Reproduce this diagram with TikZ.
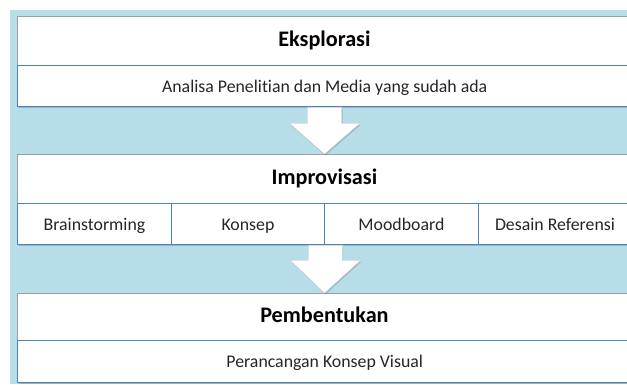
\documentclass[tikz,border=0pt]{standalone}
\usepackage{fontspec}
\setmainfont[Ligatures=NoCommon]{Carlito}
\usetikzlibrary{calc,shadows}
\definecolor{bgblue}{HTML}{B7DDE8}
\definecolor{lineblue}{HTML}{4F81BD}
\begin{document}
\begin{tikzpicture}[x=1pt,y=-1pt,
  shade1/.style={drop shadow={shadow xshift=1pt,shadow yshift=-1.5pt,opacity=0.35,fill=black!60}},
  titlebox/.style={shade1,draw=gray!75,line width=0.9pt,fill=white,minimum width=614pt,minimum height=49pt,inner sep=0pt,anchor=north west,text height=15pt,text depth=4pt,font=\bfseries\fontsize{22.2}{26}\selectfont},
  subbox/.style={shade1,draw=lineblue,line width=1.4pt,fill=white,minimum height=41pt,inner sep=0pt,anchor=north west,text height=15.5pt,text depth=3.5pt,font=\fontsize{17.8}{21}\selectfont,text=black!85},
  blockarrow/.style={fill=white,draw=gray!30,line width=0.4pt,drop shadow={shadow xshift=0.8pt,shadow yshift=-1.5pt,opacity=0.3,fill=black!60}}]
\useasboundingbox (0,0) rectangle (627,385);
\fill[bgblue] (10,10) rectangle (640,384);
% stage 1
\node[titlebox] (t1) at (17,16) {Eksplorasi};
\node[subbox,minimum width=614pt] (s1) at (17,65) {Analisa Penelitian dan Media yang sudah ada};
% stage 2
\node[titlebox] (t2) at (17,154) {Improvisasi};
\node[subbox,minimum width=153.5pt] (b1) at (17,203) {Brainstorming};
\node[subbox,minimum width=153.5pt] (b2) at (170.5,203) {Konsep};
\node[subbox,minimum width=153.5pt] (b3) at (324,203) {Moodboard};
\node[subbox,minimum width=153.5pt] (b4) at (477.5,203) {Desain Referensi};
% stage 3
\node[titlebox,minimum height=47pt] (t3) at (17,293) {Pembentukan};
\node[subbox,minimum width=614pt,minimum height=42pt] (s3) at (17,340) {Perancangan Konsep Visual};
% block arrows
\draw[blockarrow] ($(s1.south)+(-17,0)$) -- ($(s1.south)+(-17,16)$) -- ($(s1.south)+(-35,16)$)
  -- (t2.north) -- ($(s1.south)+(35,16)$) -- ($(s1.south)+(17,16)$) -- ($(s1.south)+(17,0)$) -- cycle;
\draw[blockarrow] ($(b2.south east)+(-17,0)$) -- ($(b2.south east)+(-17,15)$) -- ($(b2.south east)+(-35,15)$)
  -- (t3.north) -- ($(b2.south east)+(35,15)$) -- ($(b2.south east)+(17,15)$) -- ($(b2.south east)+(17,0)$) -- cycle;
\end{tikzpicture}
\end{document}
